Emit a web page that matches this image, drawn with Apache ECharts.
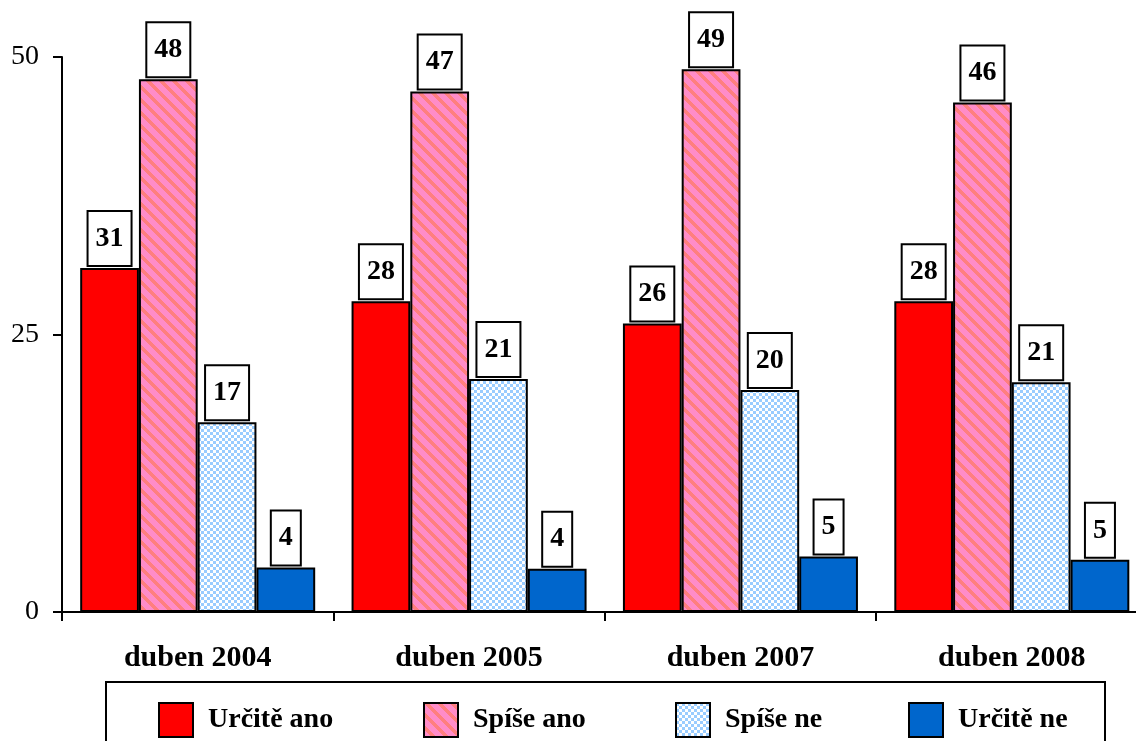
<!DOCTYPE html>
<html>
<head>
<meta charset="utf-8">
<script src="https://cdn.jsdelivr.net/npm/echarts@6/dist/echarts.min.js"></script>
<style>html,body{margin:0;padding:0;background:#fff}#c{width:1136px;height:741px}</style>
</head>
<body>
<div id="c"></div>
<script>
var categories = ['duben 2004', 'duben 2005', 'duben 2007', 'duben 2008'];
var seriesNames = ['Určitě ano', 'Spíše ano', 'Spíše ne', 'Určitě ne'];
var urciteAno = [31, 28, 26, 28];
var spiseAno = [48, 46.9, 48.9, 45.9];
var spiseNe = [17.1, 21, 20, 20.7];
var urciteNe = [4, 3.9, 5, 4.7];
var yTicks = [0, 25, 50];

function stripePattern() {
  var c = document.createElement('canvas');
  c.width = 13; c.height = 13;
  var ctx = c.getContext('2d');
  ctx.fillStyle = '#ff8cc8';
  ctx.fillRect(0, 0, 13, 13);
  ctx.fillStyle = '#ff7f7f';
  for (var y = 0; y < 13; y++) {
    for (var x = 0; x < 13; x++) {
      if ((((x - y) % 13) + 13) % 13 < 5) ctx.fillRect(x, y, 1, 1);
    }
  }
  return { image: c, repeat: 'repeat' };
}
function checkerPattern() {
  var c = document.createElement('canvas');
  c.width = 6; c.height = 6;
  var ctx = c.getContext('2d');
  ctx.fillStyle = '#ffffff';
  ctx.fillRect(0, 0, 6, 6);
  ctx.fillStyle = '#99ccff';
  ctx.fillRect(0, 0, 3, 3);
  ctx.fillRect(3, 3, 3, 3);
  return { image: c, repeat: 'repeat' };
}

var fills = ['#ff0000', stripePattern(), checkerPattern(), '#0066cc'];
var values = [urciteAno, spiseAno, spiseNe, urciteNe];
var FONT = 'Liberation Serif';

var chart = echarts.init(document.getElementById('c'), null, { renderer: 'canvas' });

var series = seriesNames.map(function (n, i) {
  return {
    name: n,
    type: 'bar',
    data: values[i],
    barGap: '0%',
    barCategoryGap: '13.4%',
    itemStyle: { color: fills[i], borderColor: '#000', borderWidth: 2 },
    label: {
      show: true,
      position: 'top',
      distance: 3,
      formatter: function (p) { return Math.round(p.value); },
      backgroundColor: '#fff',
      borderColor: '#000',
      borderWidth: 2,
      padding: [12, 7],
      fontFamily: FONT,
      fontSize: 28,
      fontWeight: 'bold',
      lineHeight: 29,
      color: '#000'
    },
    emphasis: { disabled: true }
  };
});

var legendLefts = [158, 423, 675, 908];
var legends = seriesNames.map(function (n, i) {
  return {
    data: [n],
    left: legendLefts[i],
    top: 702,
    padding: 0,
    icon: 'rect',
    itemWidth: 34,
    itemHeight: 34,
    selectedMode: false,
    itemStyle: { borderColor: '#000', borderWidth: 2 },
    textStyle: { fontFamily: FONT, fontSize: 28, fontWeight: 'bold', color: '#000', padding: [0, 0, 0, 10] }
  };
});

chart.setOption({
  animation: false,
  backgroundColor: '#fff',
  grid: { left: 62, right: -11.5, top: 57, bottom: 129, containLabel: false, outerBoundsMode: 'none' },
  legend: legends,
  graphic: [{
    type: 'rect',
    shape: { x: 106, y: 682, width: 999, height: 100 },
    style: { fill: 'none', stroke: '#000', lineWidth: 2 },
    silent: true
  }],
  xAxis: {
    type: 'category',
    data: categories,
    axisLine: { lineStyle: { color: '#000', width: 2 } },
    axisTick: { show: true, length: 9, lineStyle: { color: '#000', width: 2 } },
    axisLabel: { fontFamily: FONT, fontSize: 30, fontWeight: 'bold', color: '#000', margin: 31 }
  },
  yAxis: {
    type: 'value',
    min: yTicks[0],
    max: yTicks[yTicks.length - 1],
    interval: yTicks[1] - yTicks[0],
    splitLine: { show: false },
    axisLine: { show: true, lineStyle: { color: '#000', width: 2 } },
    axisTick: { show: true, length: 9, lineStyle: { color: '#000', width: 2 } },
    axisLabel: { fontFamily: FONT, fontSize: 28, color: '#000', margin: 23 }
  },
  series: series
});
</script>
</body>
</html>
